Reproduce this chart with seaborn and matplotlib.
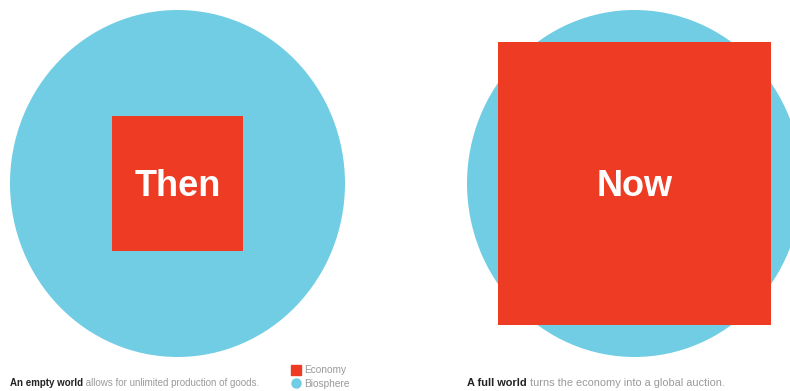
import matplotlib
matplotlib.use("Agg")
import matplotlib.pyplot as plt
import seaborn as sns
from matplotlib.patches import Ellipse, Rectangle
from matplotlib.lines import Line2D

# panel data: economy size as a fraction of the biosphere diameter
panels = ["Then", "Now"]
biosphere_radius = [1.0, 1.0]
economy_half = [0.39, 0.815]
caption_bold = ["An empty world", "A full world"]
caption_rest = [" allows for unlimited production of goods.",
                " turns the economy into a global auction."]
legend_labels = ["Economy", "Biosphere"]

sns.set_theme(style="white")
plt.rcParams["font.family"] = ["Liberation Sans", "DejaVu Sans"]

red, blue = "#ED3B24", "#70CDE3"
W, H = 790, 391
fig = plt.figure(figsize=(W / 100, H / 100), dpi=100)
fig.patch.set_facecolor("white")

lefts = [10, 467]
cap_size = [7, 7.9]
for i, name in enumerate(panels):
    ax = fig.add_axes([lefts[i] / W, 1 - 357 / H, 335 / W, 347 / H])
    ax.set_xlim(-1, 1)
    ax.set_ylim(-1, 1)
    ax.axis("off")
    r = biosphere_radius[i]
    ax.add_patch(Ellipse((0, 0), 2 * r, 2 * r, color=blue, lw=0))
    h = economy_half[i]
    ax.add_patch(Rectangle((-h, -h), 2 * h, 2 * h, color=red, lw=0))
    ax.text(0, -0.02, name, color="white", fontsize=26, fontweight="bold",
            ha="center", va="center")

    # bold lead-in, then the grey rest of the caption right after it
    t = fig.text(lefts[i] / W, 1 - 386 / H, caption_bold[i],
                 fontsize=cap_size[i], fontweight="bold", color="#222222",
                 va="baseline")
    ax.annotate(caption_rest[i], xy=(1, 0), xycoords=t, fontsize=cap_size[i],
                color="#9a9a9a", va="bottom", ha="left",
                annotation_clip=False)

handles = [Line2D([], [], ls="", marker="s", ms=6.5, color=red),
           Line2D([], [], ls="", marker="o", ms=6.5, color=blue)]
fig.legend(handles, legend_labels, loc="upper left",
           bbox_to_anchor=(287 / W, 1 - 360 / H), frameon=False,
           fontsize=7.3, labelcolor="#9a9a9a", handlelength=0.8,
           handletextpad=0.4, labelspacing=0.35, borderpad=0)

fig.savefig("out.png", dpi=100, facecolor="white")
